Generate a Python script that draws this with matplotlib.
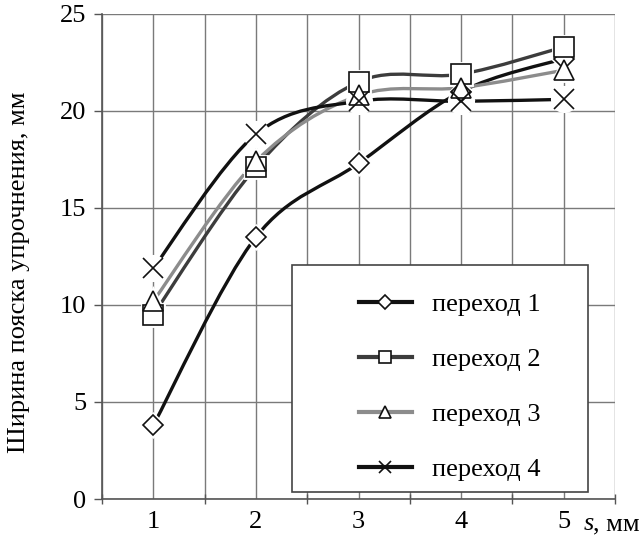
import numpy as np
import matplotlib
matplotlib.use("Agg")
import matplotlib.pyplot as plt
from matplotlib.path import Path
from matplotlib.patches import PathPatch, Rectangle
from matplotlib.lines import Line2D
from matplotlib.ticker import MultipleLocator

plt.rcParams['font.family'] = ['Liberation Serif', 'DejaVu Serif']

# Feed s, mm
feed = [1, 2, 3, 4, 5]
# Hardened band width, mm, per pass
pass1 = [3.8, 13.5, 17.3, 21.0, 22.7]
pass2 = [9.5, 17.1, 21.5, 21.9, 23.3]
pass3 = [10.2, 17.4, 20.8, 21.2, 22.1]
pass4 = [11.9, 18.8, 20.5, 20.5, 20.6]

labels = ['переход 1', 'переход 2', 'переход 3', 'переход 4']
y_ticks = [0, 5, 10, 15, 20, 25]

W, H = 640, 535
FS = 19


def smooth_path(xs, ys):
    """Cubic Bezier path through the points (spreadsheet-style smoothing)."""
    pts = np.column_stack([xs, ys]).astype(float)
    n = len(pts)
    verts = [pts[0]]
    codes = [Path.MOVETO]
    for i in range(n - 1):
        p0 = pts[i - 1] if i > 0 else pts[i]
        p1 = pts[i]
        p2 = pts[i + 1]
        p3 = pts[i + 2] if i + 2 < n else pts[i + 1]
        c1 = p1 + (p2 - p0) / 6.0
        c2 = p2 - (p3 - p1) / 6.0
        verts += [c1, c2, p2]
        codes += [Path.CURVE4] * 3
    return Path(verts, codes)


fig = plt.figure(figsize=(W / 100, H / 100), dpi=100)
ax_l, ax_r, ax_t, ax_b = 102, 615, 14, 499
ax = fig.add_axes([ax_l / W, 1 - ax_b / H, (ax_r - ax_l) / W, (ax_b - ax_t) / H])

series = [pass1, pass2, pass3, pass4]
colors = ['#111111', '#3c3c3c', '#8c8c8c', '#111111']
markers = ['D', 's', '^', 'x']
msizes = [10.5, 14, 15, 15]

for ys, c in zip(series, colors):
    ax.add_patch(PathPatch(smooth_path(feed, ys), fill=False, edgecolor=c,
                           lw=2.4, zorder=3, capstyle='butt'))

for ys, m, ms in zip(series, markers, msizes):
    # white halo around each marker
    halo_m = 'o' if m == 'x' else m
    ax.plot(feed, ys, ls='none', marker=halo_m, ms=ms + (1 if m == 'x' else 0),
            mfc='white', mec='white', mew=3.5, zorder=4)

for ys, m, ms in zip(series, markers, msizes):
    ax.plot(feed, ys, ls='none', marker=m, ms=ms, mfc='white', mec='#111111',
            mew=1.2, zorder=5)

ax.set_xlim(0.5, 5.5)
ax.set_ylim(0, 25)
ax.xaxis.set_minor_locator(MultipleLocator(0.5))
ax.set_yticks(y_ticks)
ax.set_xticks(feed)
ax.set_xticklabels([str(v) for v in feed])
ax.grid(False)
for xv in np.arange(0.5, 5.51, 0.5):
    ax.axvline(xv, color='#7a7a7a', lw=1.0, zorder=1)
for yv in y_ticks:
    ax.axhline(yv, color='#7a7a7a', lw=1.0, zorder=1)

for side in ['top', 'right']:
    ax.spines[side].set_visible(False)
for side in ['left', 'bottom']:
    ax.spines[side].set_color('#555555')
    ax.spines[side].set_linewidth(1.2)

ax.tick_params(axis='x', which='major', length=0, pad=9, labelsize=FS)
ax.tick_params(axis='x', which='minor', direction='inout', length=7,
               color='#555555', width=1.0)
ax.tick_params(axis='y', which='major', direction='out', length=6,
               color='#555555', width=1.0, pad=5.5, labelsize=FS)

# y-axis title
fig.text(25 / W, 1 - 272 / H, 'Ширина пояска упрочнения, мм', fontsize=FS,
         rotation=90, rotation_mode='anchor', ha='center', va='baseline')

# x-axis title placed after the last tick label
fig.text(584 / W, 1 - 530 / H, 's', fontsize=FS, style='italic',
         ha='left', va='baseline')
fig.text(593 / W, 1 - 530 / H, ', мм', fontsize=FS, ha='left',
         va='baseline')

# legend frame
lx0, ly0, lx1, ly1 = 292, 265, 588, 492
ax.add_patch(Rectangle(((lx0 - ax_l) / (ax_r - ax_l), (ax_b - ly1) / (ax_b - ax_t)),
                       (lx1 - lx0) / (ax_r - ax_l), (ly1 - ly0) / (ax_b - ax_t),
                       transform=ax.transAxes, facecolor='white',
                       edgecolor='#444444', lw=1.2, zorder=9, clip_on=False))

handles = []
leg_ms = [7, 9, 9, 9]
for c, m, ms in zip(colors, markers, leg_ms):
    handles.append(Line2D([], [], color=c, lw=3, marker=m, ms=ms,
                          mfc='white', mec='#111111', mew=1.2))
leg = ax.legend(handles, labels, loc='upper left',
                bbox_to_anchor=((359 - ax_l) / (ax_r - ax_l),
                                (ax_b - 293) / (ax_b - ax_t)),
                fontsize=FS, frameon=False, borderpad=0,
                labelspacing=1.19, handlelength=2.0, handletextpad=0.75,
                borderaxespad=0)
leg.set_zorder(10)

fig.savefig('out.png', dpi=100)
